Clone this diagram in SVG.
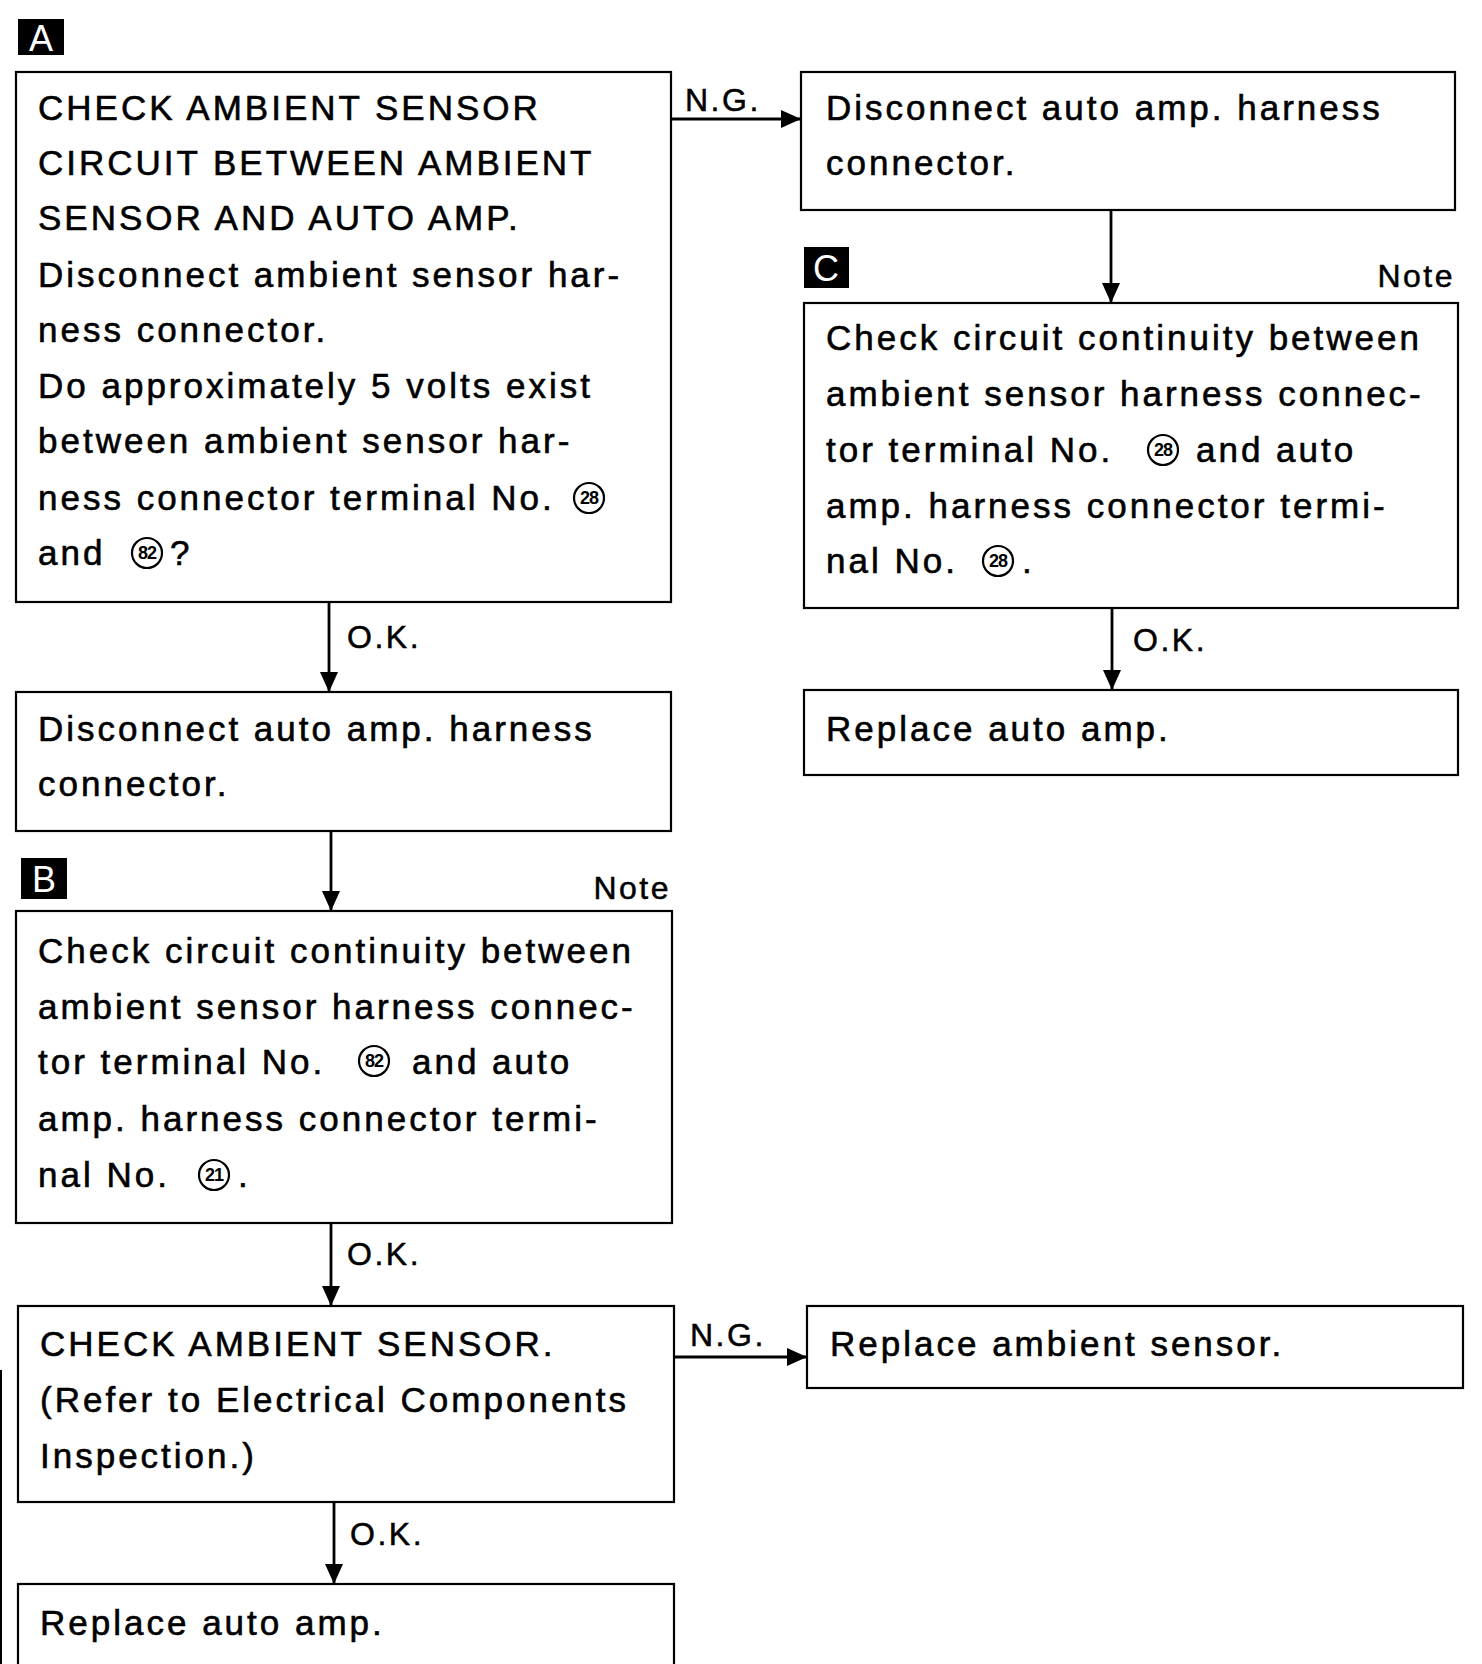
<svg xmlns="http://www.w3.org/2000/svg" width="1482" height="1664" viewBox="0 0 1482 1664">
  <style>
    .box { fill: #fff; stroke: #000; stroke-width: 2.2; }
    .t { font-family: "Liberation Sans", Arial, sans-serif; font-size: 35px; letter-spacing: 3px; fill: #000; stroke: #000; stroke-width: 0.6px; }
    .lbl { font-family: "Liberation Sans", Arial, sans-serif; font-size: 32px; letter-spacing: 2.5px; fill: #000; stroke: #000; stroke-width: 0.5px; }
    .tag { fill: #000; }
    .tagtext { font-family: "Liberation Sans", Arial, sans-serif; font-size: 36px; fill: #fff; text-anchor: middle; }
    .num { fill: #fff; stroke: #000; stroke-width: 2.2; }
    .numtext { font-family: "Liberation Sans", Arial, sans-serif; font-size: 18px; font-weight: bold; letter-spacing: -1px; fill: #000; text-anchor: middle; }
    .conn { stroke: #000; stroke-width: 2.8; fill: none; }
  </style>
  <defs>
    <marker id="arrow" markerUnits="userSpaceOnUse" markerWidth="20" markerHeight="18" viewBox="0 0 20 18" refX="20" refY="9" orient="auto">
      <path d="M0,0 L20,9 L0,18 Z" fill="#000"/>
    </marker>
  </defs>

  <rect width="1482" height="1664" fill="#fff"/>

  <!-- connectors -->
  <g id="connectors">
    <line class="conn" x1="671" y1="119" x2="801" y2="119" marker-end="url(#arrow)"/>
    <line class="conn" x1="1111" y1="210" x2="1111" y2="303" marker-end="url(#arrow)"/>
    <line class="conn" x1="1112" y1="608" x2="1112" y2="690" marker-end="url(#arrow)"/>
    <line class="conn" x1="329" y1="602" x2="329" y2="692" marker-end="url(#arrow)"/>
    <line class="conn" x1="331" y1="831" x2="331" y2="911" marker-end="url(#arrow)"/>
    <line class="conn" x1="331" y1="1223" x2="331" y2="1306" marker-end="url(#arrow)"/>
    <line class="conn" x1="674" y1="1357" x2="807" y2="1357" marker-end="url(#arrow)"/>
    <line class="conn" x1="334" y1="1502" x2="334" y2="1584" marker-end="url(#arrow)"/>
    <text class="lbl" x="685" y="111">N.G.</text>
    <text class="lbl" x="347" y="648">O.K.</text>
    <text class="lbl" x="1133" y="651">O.K.</text>
    <text class="lbl" x="347" y="1265">O.K.</text>
    <text class="lbl" x="690" y="1346">N.G.</text>
    <text class="lbl" x="350" y="1545">O.K.</text>
  </g>

  <!-- step A -->
  <g id="tagA">
    <rect class="tag" x="18" y="19" width="46" height="36"/>
    <text class="tagtext" x="41" y="51">A</text>
  </g>
  <g id="checkCircuit">
    <rect class="box" x="16" y="72" width="655" height="530"/>
    <text class="t" x="38" y="120">CHECK AMBIENT SENSOR</text>
    <text class="t" x="38" y="175">CIRCUIT BETWEEN AMBIENT</text>
    <text class="t" x="38" y="230">SENSOR AND AUTO AMP.</text>
    <text class="t" x="38" y="287">Disconnect ambient sensor har-</text>
    <text class="t" x="38" y="342">ness connector.</text>
    <text class="t" x="38" y="398">Do approximately 5 volts exist</text>
    <text class="t" x="38" y="453">between ambient sensor har-</text>
    <text class="t" x="38" y="510">ness connector terminal No.</text>
    <circle class="num" cx="589" cy="498" r="15"/>
    <text class="numtext" x="589" y="504">28</text>
    <text class="t" x="38" y="565">and</text>
    <circle class="num" cx="147" cy="553" r="15"/>
    <text class="numtext" x="147" y="559">82</text>
    <text class="t" x="170" y="565">?</text>
  </g>

  <!-- N.G. branch, right column -->
  <g id="disconnectAmpRight">
    <rect class="box" x="801" y="72" width="654" height="138"/>
    <text class="t" x="826" y="120">Disconnect auto amp. harness</text>
    <text class="t" x="826" y="175">connector.</text>
  </g>
  <g id="tagC">
    <rect class="tag" x="804" y="247" width="45" height="41"/>
    <text class="tagtext" x="826" y="281">C</text>
  </g>
  <text class="lbl" x="1455" y="287" text-anchor="end">Note</text>
  <g id="checkContinuityC">
    <rect class="box" x="804" y="303" width="654" height="305"/>
    <text class="t" x="826" y="350">Check circuit continuity between</text>
    <text class="t" x="826" y="406">ambient sensor harness connec-</text>
    <text class="t" x="826" y="462">tor terminal No.</text>
    <circle class="num" cx="1163" cy="450" r="15"/>
    <text class="numtext" x="1163" y="456">28</text>
    <text class="t" x="1196" y="462">and auto</text>
    <text class="t" x="826" y="518">amp. harness connector termi-</text>
    <text class="t" x="826" y="573">nal No.</text>
    <circle class="num" cx="998" cy="561" r="15"/>
    <text class="numtext" x="998" y="567">28</text>
    <text class="t" x="1022" y="573">.</text>
  </g>
  <g id="replaceAmpRight">
    <rect class="box" x="804" y="690" width="654" height="85"/>
    <text class="t" x="826" y="741">Replace auto amp.</text>
  </g>

  <!-- O.K. branch, left column -->
  <g id="disconnectAmpLeft">
    <rect class="box" x="16" y="692" width="655" height="139"/>
    <text class="t" x="38" y="741">Disconnect auto amp. harness</text>
    <text class="t" x="38" y="796">connector.</text>
  </g>
  <g id="tagB">
    <rect class="tag" x="21" y="858" width="46" height="41"/>
    <text class="tagtext" x="44" y="892">B</text>
  </g>
  <text class="lbl" x="671" y="899" text-anchor="end">Note</text>
  <g id="checkContinuityB">
    <rect class="box" x="16" y="911" width="656" height="312"/>
    <text class="t" x="38" y="963">Check circuit continuity between</text>
    <text class="t" x="38" y="1019">ambient sensor harness connec-</text>
    <text class="t" x="38" y="1074">tor terminal No.</text>
    <circle class="num" cx="374" cy="1061" r="15"/>
    <text class="numtext" x="374" y="1067">82</text>
    <text class="t" x="412" y="1074">and auto</text>
    <text class="t" x="38" y="1131">amp. harness connector termi-</text>
    <text class="t" x="38" y="1187">nal No.</text>
    <circle class="num" cx="214" cy="1175" r="15"/>
    <text class="numtext" x="214" y="1181">21</text>
    <text class="t" x="238" y="1187">.</text>
  </g>
  <g id="checkSensor">
    <rect class="box" x="18" y="1306" width="656" height="196"/>
    <text class="t" x="40" y="1356">CHECK AMBIENT SENSOR.</text>
    <text class="t" x="40" y="1412">(Refer to Electrical Components</text>
    <text class="t" x="40" y="1468">Inspection.)</text>
  </g>
  <g id="replaceSensor">
    <rect class="box" x="807" y="1306" width="656" height="82"/>
    <text class="t" x="830" y="1356">Replace ambient sensor.</text>
  </g>
  <g id="replaceAmpLeft">
    <rect class="box" x="18" y="1584" width="656" height="90"/>
    <text class="t" x="40" y="1635">Replace auto amp.</text>
  </g>

  <!-- page edge rule -->
  <line x1="1" y1="1370" x2="1" y2="1664" stroke="#000" stroke-width="2"/>
</svg>
